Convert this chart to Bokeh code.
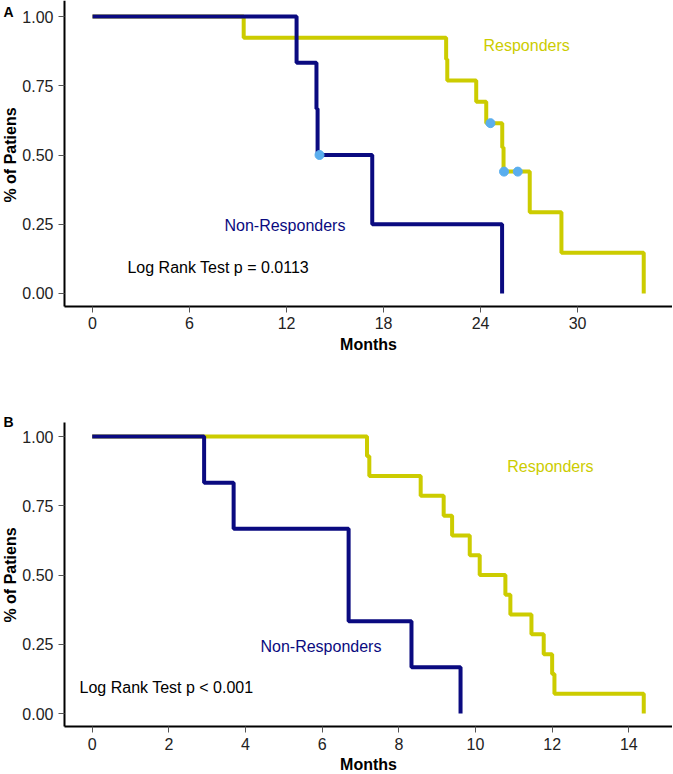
import math
from bokeh.plotting import figure
from bokeh.models import Label, FixedTicker, PrintfTickFormatter, Range1d, LinearAxis
from bokeh.layouts import column
from bokeh.embed import file_html
from bokeh.resources import INLINE

# ---------------- data: panel A ----------------
a_non_time = [0, 12.62, 13.85, 13.92, 17.30, 25.33]
a_non_surv = [1.0, 0.833, 0.667, 0.500, 0.250, 0.0]
a_non_cens_time = [14.04]
a_non_cens_surv = [0.500]
a_resp_time = [0, 9.35, 21.87, 21.94, 23.73, 24.35, 25.34, 25.42, 27.04, 29.00, 34.09]
a_resp_surv = [1.0, 0.923, 0.846, 0.769, 0.692, 0.615, 0.527, 0.440, 0.293, 0.147, 0.0]
a_resp_cens_time = [24.61, 25.45, 26.30]
a_resp_cens_surv = [0.615, 0.440, 0.440]
a_xticks = [0, 6, 12, 18, 24, 30]

# ---------------- data: panel B ----------------
b_non_time = [0, 2.92, 3.69, 6.69, 8.33, 9.61]
b_non_surv = [1.0, 0.833, 0.667, 0.333, 0.167, 0.0]
b_resp_time = [0, 7.17, 7.23, 8.57, 9.17, 9.39, 9.85, 10.11, 10.78, 10.91, 11.46, 11.78, 12.00, 12.06, 14.39]
b_resp_surv = [1.0, 0.929, 0.857, 0.786, 0.714, 0.643, 0.571, 0.500, 0.429, 0.357, 0.286, 0.214, 0.143, 0.071, 0.0]
b_xticks = [0, 2, 4, 6, 8, 10, 12, 14]

y_ticks = [0, 0.25, 0.5, 0.75, 1.0]

NAVY = "#0A0A80"
YELLOW = "#CCCC00"
DOT = "#5AAEEE"
FONT = "Liberation Sans"


def make_panel(xr, yr, height, x_at, y_at, xbounds, ybounds, xticks):
    p = figure(width=672, height=height, x_range=Range1d(*xr), y_range=Range1d(*yr),
               output_backend="svg", toolbar_location=None,
               x_axis_type=None, y_axis_type=None,
               min_border_left=0, min_border_right=0, min_border_top=0, min_border_bottom=0)
    p.outline_line_color = None
    p.background_fill_color = "white"
    xa = LinearAxis(fixed_location=y_at, bounds=xbounds, ticker=FixedTicker(ticks=xticks))
    ya = LinearAxis(fixed_location=x_at, bounds=ybounds, ticker=FixedTicker(ticks=y_ticks),
                    formatter=PrintfTickFormatter(format="%.2f"))
    for ax in (xa, ya):
        ax.axis_line_width = 2
        ax.axis_line_color = "black"
        ax.major_tick_in = 0
        ax.major_tick_out = 6
        ax.major_tick_line_color = "#555555"
        ax.major_tick_line_width = 1
        ax.minor_tick_line_color = None
        ax.major_label_text_font = FONT
        ax.major_label_text_font_size = "16px"
        ax.major_label_text_color = "#222222"
        ax.major_label_standoff = 5
    xa.axis_label = "Months"
    xa.axis_label_text_font = FONT
    xa.axis_label_text_font_size = "16px"
    xa.axis_label_text_font_style = "bold"
    xa.axis_label_text_color = "black"
    xa.axis_label_standoff = 3
    p.add_layout(xa, "below")
    p.add_layout(ya, "left")
    return p


def add_text(p, x, y, text, color, size="16px", bold=False, angle=0, align="left"):
    p.add_layout(Label(x=x, y=y, text=text, text_color=color, text_font=FONT,
                       text_font_size=size, text_font_style="bold" if bold else "normal",
                       text_baseline="middle", text_align=align, angle=angle))


# ---------------- Panel A ----------------
pA = make_panel((-5.690, 35.869), (-0.3141, 1.0578), 380,
                -1.7316, -0.0469, (-1.7316, 35.93), (-0.0469, 1.0578), a_xticks)
pA.step(a_resp_time, a_resp_surv, mode="after", line_color=YELLOW, line_width=4)
pA.step(a_non_time, a_non_surv, mode="after", line_color=NAVY, line_width=4)
pA.scatter(a_resp_cens_time, a_resp_cens_surv, marker="circle", size=9, fill_color=DOT, line_color=DOT)
pA.scatter(a_non_cens_time, a_non_cens_surv, marker="circle", size=9, fill_color=DOT, line_color=DOT)
add_text(pA, 24.18, 0.895, "Responders", YELLOW)
add_text(pA, 8.16, 0.245, "Non-Responders", NAVY)
add_text(pA, 2.16, 0.094, "Log Rank Test p = 0.0113", "black")
add_text(pA, -5.504, 1.018, "A", "black", size="14px", bold=True)
add_text(pA, -5.071, 0.5, "% of Patiens", "black", bold=True, angle=math.pi / 2, align="center")

# ---------------- Panel B ----------------
pB = make_panel((-2.3924, 15.140), (-0.2166, 1.2022), 393,
                -0.7227, -0.048, (-0.7227, 15.166), (-0.048, 1.0505), b_xticks)
pB.step(b_resp_time, b_resp_surv, mode="after", line_color=YELLOW, line_width=4)
pB.step(b_non_time, b_non_surv, mode="after", line_color=NAVY, line_width=4)
add_text(pB, 10.83, 0.893, "Responders", YELLOW)
add_text(pB, 4.39, 0.243, "Non-Responders", NAVY)
add_text(pB, -0.33, 0.093, "Log Rank Test p < 0.001", "black")
add_text(pB, -2.314, 1.054, "B", "black", size="14px", bold=True)
add_text(pB, -2.1315, 0.5, "% of Patiens", "black", bold=True, angle=math.pi / 2, align="center")

layout = column(pA, pB, spacing=0)
open("out.html", "w").write(file_html(layout, INLINE))
